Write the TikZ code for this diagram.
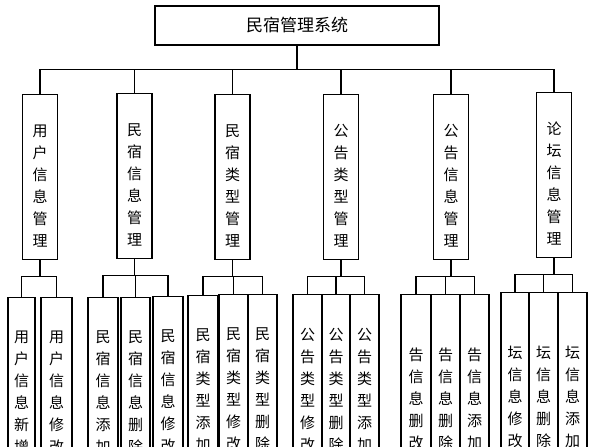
\documentclass[tikz,border=0pt]{standalone}
\usepackage{fontspec}
\newfontfamily\cjk{Noto Sans CJK SC}
\usepackage{tikz}

\begin{document}
\begin{tikzpicture}[x=1pt,y=-1pt,line width=1.1pt,
  rootstyle/.style={rectangle,draw,minimum width=284pt,minimum height=39pt,font=\cjk\fontsize{17}{20}\selectfont},
  midstyle/.style={rectangle,draw,anchor=north,minimum width=35pt,minimum height=165pt,align=center,text height=141.4pt,text depth=2pt,font=\cjk\fontsize{15}{22}\selectfont},
  leafstyle/.style={rectangle,draw,anchor=north,minimum width=29pt,minimum height=190pt,align=center,font=\cjk\fontsize{15}{22}\selectfont}]
\clip (0,0) rectangle (600,447);
\fill[white] (0,0) rectangle (600,447);

\node[rootstyle] (sys) at (297,25.5) {民宿管理系统};

% second level
\node[midstyle] (m1) at (40,94) {用\\户\\信\\息\\管\\理};
\node[midstyle] (m2) at (134.5,93) {民\\宿\\信\\息\\管\\理};
\node[midstyle] (m3) at (232.5,94) {民\\宿\\类\\型\\管\\理};
\node[midstyle] (m4) at (341,94) {公\\告\\类\\型\\管\\理};
\node[midstyle] (m5) at (451,94) {公\\告\\信\\息\\管\\理};
\node[midstyle] (m6) at (554,92) {论\\坛\\信\\息\\管\\理};

% leaves
\node[leafstyle,minimum width=27pt] (u1) at (21.5,297) {用\\户\\信\\息\\新\\增};
\node[leafstyle,minimum width=31pt] (u2) at (56.5,297) {用\\户\\信\\息\\修\\改};

\node[leafstyle,minimum width=30pt] (h1) at (103,297) {民\\宿\\信\\息\\添\\加};
\node[leafstyle] (h2) at (135.5,297) {民\\宿\\信\\息\\删\\除};
\node[leafstyle,minimum width=30pt] (h3) at (168,296) {民\\宿\\信\\息\\修\\改};

\node[leafstyle,minimum width=30pt] (t1) at (203,295) {民\\宿\\类\\型\\添\\加};
\node[leafstyle] (t2) at (233.5,294) {民\\宿\\类\\型\\修\\改};
\node[leafstyle] (t3) at (262.5,294) {民\\宿\\类\\型\\删\\除};

\node[leafstyle] (n1) at (307.5,294) {公\\告\\类\\型\\修\\改};
\node[leafstyle,minimum width=28pt] (n2) at (336,294) {公\\告\\类\\型\\删\\除};
\node[leafstyle] (n3) at (364.5,294) {公\\告\\类\\型\\添\\加};

\node[leafstyle,minimum width=30pt,minimum height=208pt] (g1) at (416,294) {告\\信\\息\\删\\改};
\node[leafstyle,minimum height=208pt] (g2) at (445.5,294) {告\\信\\息\\删\\除};
\node[leafstyle,minimum height=208pt] (g3) at (474.5,294) {告\\信\\息\\添\\加};

\node[leafstyle,minimum width=28pt,minimum height=208pt] (f1) at (515,292) {坛\\信\\息\\修\\改};
\node[leafstyle,minimum height=208pt] (f2) at (543.5,292) {坛\\信\\息\\删\\除};
\node[leafstyle,minimum height=208pt] (f3) at (572.5,292) {坛\\信\\息\\添\\加};

% connectors
\foreach \m in {m1,m2,m3,m4,m5,m6}
  \draw (sys.south) -- ++(0,24) -| (\m.north);
\foreach \m/\l in {m1/u1,m1/u2,m2/h1,m2/h2,m2/h3,m3/t1,m3/t2,m3/t3,m4/n1,m4/n2,m4/n3,m5/g1,m5/g2,m5/g3,m6/f1,m6/f2,m6/f3}
  \draw (\m.south) -- ++(0,16) -| (\l.north);
\end{tikzpicture}
\end{document}
